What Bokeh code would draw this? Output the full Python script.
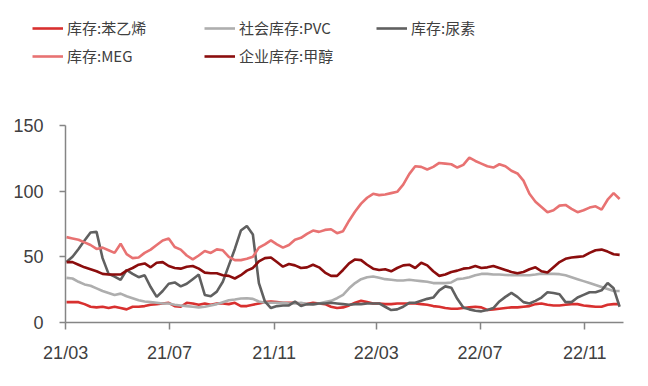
import pandas as pd
from bokeh.plotting import figure
from bokeh.models import Legend, LegendItem, FixedTicker, Range1d, DatetimeTickFormatter
from bokeh.embed import file_html
from bokeh.resources import INLINE

start_date = "2021-03-02"
end_date = "2022-12-12"
n_points = 93

styrene = [15.5, 15.5, 15.5, 14, 12, 11.5, 12, 11, 12, 11, 10, 12, 12, 12.5, 13.5, 14, 14.5, 15,
           12.5, 12, 15, 14.5, 13.5, 14.5, 13.5, 14.5, 14.5, 14, 15, 12.5, 12.5, 13.5, 14.5, 15.5, 16, 15.5, 15,
           15, 15, 14.5, 14, 15, 14.5, 14, 12, 11, 11.5, 13, 15, 16.5, 15.5, 14.5, 14.5, 14,
           14, 14.5, 14.5, 14.5, 14.5, 14, 13.5, 12.5, 12, 11, 10.5, 10.5, 11, 11.5, 12, 11.5, 9.5,
           10, 10.5, 11, 11.5, 11.5, 12, 12.5, 14, 14.5, 13.5, 13, 13, 13.5, 14, 14, 13, 12.5, 12, 12, 13.5, 14, 14]

pvc = [34, 33.5, 31, 29, 28, 26, 24, 22.5, 21, 22, 20, 18.5, 17, 16, 15.5, 15, 14.5, 14.5,
       13.5, 13, 12.5, 12, 11.5, 12, 13, 14, 15.5, 17, 17.5, 18.3, 18.5, 18, 16, 15, 15, 15, 15,
       14.5, 14.5, 15, 14, 13.5, 14.5, 15.5, 16.5, 18.5, 21, 26, 30, 33, 34.5, 35, 34, 33,
       32.5, 32, 32, 32.5, 32, 31.5, 31, 30, 30, 30, 30.5, 33, 33.5, 34.5, 36, 37, 37,
       36.5, 36.5, 36.2, 36, 36, 36, 36, 36.5, 37.2, 37, 37, 36.8, 36, 34.5, 33, 31.5, 30, 28.5, 27, 25.5, 24, 24]

urea = [46, 50, 56, 62.5, 68.5, 69, 49, 37, 35, 32.5, 40, 37, 34.5, 36, 27, 19.5, 24, 29.5,
        30.5, 27.5, 29.5, 33, 36.5, 21, 20, 23.5, 31, 43.5, 56, 70, 73.5, 67, 30, 16, 11, 12.5, 13,
        13, 16, 12.5, 14, 14, 14.5, 14.5, 15, 14.5, 14, 13.5, 14, 14, 14.5, 14.5, 14.5, 12,
        9.5, 10, 12, 15, 15, 16.5, 18, 19, 24.5, 27.5, 26.5, 18, 11.5, 10, 9, 8.5, 9.5,
        11, 16, 19.5, 22.5, 19.5, 15.5, 14.5, 16.5, 19, 23, 22.5, 21.5, 15.5, 15.5, 19, 21, 23, 23, 24.5, 30, 26, 12]

meg = [65, 64, 63, 61, 59, 56, 57, 55, 53, 60, 52, 49, 49.5, 53, 55.5, 59, 62.5, 64,
       57.5, 55.5, 51, 48, 51, 54.5, 53, 55.7, 55, 50, 47.5, 47.5, 48.5, 50, 57, 59.5, 62.5, 59.5, 57,
       59, 63, 64.5, 67.5, 70, 69, 70.5, 71, 68, 69.5, 77.5, 84.5, 90.5, 95, 98, 97, 97.5,
       98.5, 99.5, 105, 113, 119, 118.5, 116.5, 118.5, 121.5, 121, 120.5, 118, 120, 125.5, 123, 121, 119,
       118, 120.5, 119, 115.5, 113.5, 108, 98, 92, 88, 84, 85.5, 89, 89.5, 86.5, 84, 85.5, 87.5, 88.5, 86, 93.5, 98.5, 94]

methanol = [46, 46, 44, 42, 40.5, 39, 37, 36.5, 36.5, 36.5, 39.5, 41.5, 44, 45, 42, 45.5, 46, 43,
            41.5, 41, 42.5, 43, 41, 38, 37.5, 37.5, 36, 35.5, 33.5, 36, 39.5, 41.5, 46.5, 49, 49.5, 46, 42.5,
            44.5, 43.5, 41.5, 42, 44, 42, 38, 35.5, 35.5, 40, 45, 48, 47.5, 44, 41, 40, 40.5,
            39, 41.5, 43.5, 44, 41.5, 45.5, 43.5, 39, 35.5, 36.5, 38.5, 39.5, 41, 41.5, 43, 41.5, 42,
            43, 41.5, 40, 38.5, 37.5, 38.5, 40.5, 42, 39, 38, 42, 46, 48.5, 49.5, 50, 50.5, 53, 55, 55.5, 54, 52, 51.5]

series_names = ["库存:苯乙烯", "社会库存:PVC", "库存:尿素", "库存:MEG", "企业库存:甲醇"]
series_colors = ["#D8302F", "#AEAEAE", "#606060", "#E87272", "#8B0D0D"]

tick_dates = ["2021-03-01", "2021-07-01", "2021-11-01", "2022-03-01", "2022-07-01", "2022-11-01"]
tick_labels = ["21/03", "21/07", "21/11", "22/03", "22/07", "22/11"]
y_ticks = [0, 50, 100, 150]

dates = pd.date_range(start_date, end_date, periods=n_points)
LINE_W = 2.6

# ---- legend strip (separate root); its sample lines sit outside its visible range ----
leg_fig = figure(width=640, height=70, output_backend="svg", toolbar_location=None,
                 x_axis_location=None, y_axis_location=None,
                 min_border_left=0, min_border_right=0, min_border_top=0, min_border_bottom=0,
                 x_range=Range1d(0, 1), y_range=Range1d(0, 1))
leg_fig.outline_line_color = None
leg_fig.xgrid.grid_line_color = None
leg_fig.ygrid.grid_line_color = None
leg_renderers = [leg_fig.line(x=[-5, -4], y=[-5, -4], line_color=c, line_width=LINE_W) for c in series_colors]
legend = Legend(items=[LegendItem(label=nm, renderers=[r]) for nm, r in zip(series_names, leg_renderers)],
                orientation="horizontal", ncols=3,
                location=(32, 4),
                glyph_width=31, glyph_height=20, label_height=20, label_width=130,
                label_standoff=4, spacing=7, padding=0, margin=0,
                border_line_color=None, background_fill_alpha=0,
                label_text_font="Noto Sans CJK SC", label_text_font_size="15px",
                label_text_color="#404040")
leg_fig.add_layout(legend, "center")

# ---- main chart ----
p = figure(width=640, height=308, x_axis_type="datetime",
           x_range=Range1d(start=pd.Timestamp("2021-02-28 20:00"), end=pd.Timestamp("2022-12-16 13:00")),
           y_range=Range1d(start=0, end=150),
           output_backend="svg", toolbar_location=None,
           min_border_left=65, min_border_right=17, min_border_top=55, min_border_bottom=56)

p.outline_line_color = None
p.xgrid.grid_line_color = None
p.ygrid.grid_line_color = None

for vals, col in zip([styrene, pvc, urea, meg, methanol], series_colors):
    p.line(dates, vals, line_color=col, line_width=LINE_W)

for ax in (p.xaxis[0], p.yaxis[0]):
    ax.axis_line_color = "#858585"
    ax.axis_line_width = 1.5
    ax.major_tick_line_color = "#858585"
    ax.major_tick_line_width = 1.5
    ax.major_tick_in = 0
    ax.minor_tick_line_color = None
    ax.major_label_text_font = "Liberation Sans"
    ax.major_label_text_font_size = "18px"
    ax.major_label_text_color = "#404040"

p.yaxis[0].ticker = FixedTicker(ticks=y_ticks)
p.yaxis[0].major_tick_out = 6
p.yaxis[0].major_label_standoff = 16

tick_ms = [pd.Timestamp(d).value // 10**6 for d in tick_dates]
p.xaxis[0].ticker = FixedTicker(ticks=tick_ms)
p.xaxis[0].major_tick_out = 7
p.xaxis[0].major_label_standoff = 13
p.xaxis[0].major_label_overrides = {t: lab for t, lab in zip(tick_ms, tick_labels)}
fmt = "%y/%m"
p.xaxis[0].formatter = DatetimeTickFormatter(milliseconds=fmt, seconds=fmt, minsec=fmt, minutes=fmt,
                                             hourmin=fmt, hours=fmt, days=fmt, months=fmt, years=fmt)

open("out.html", "w").write(file_html([leg_fig, p], INLINE))
